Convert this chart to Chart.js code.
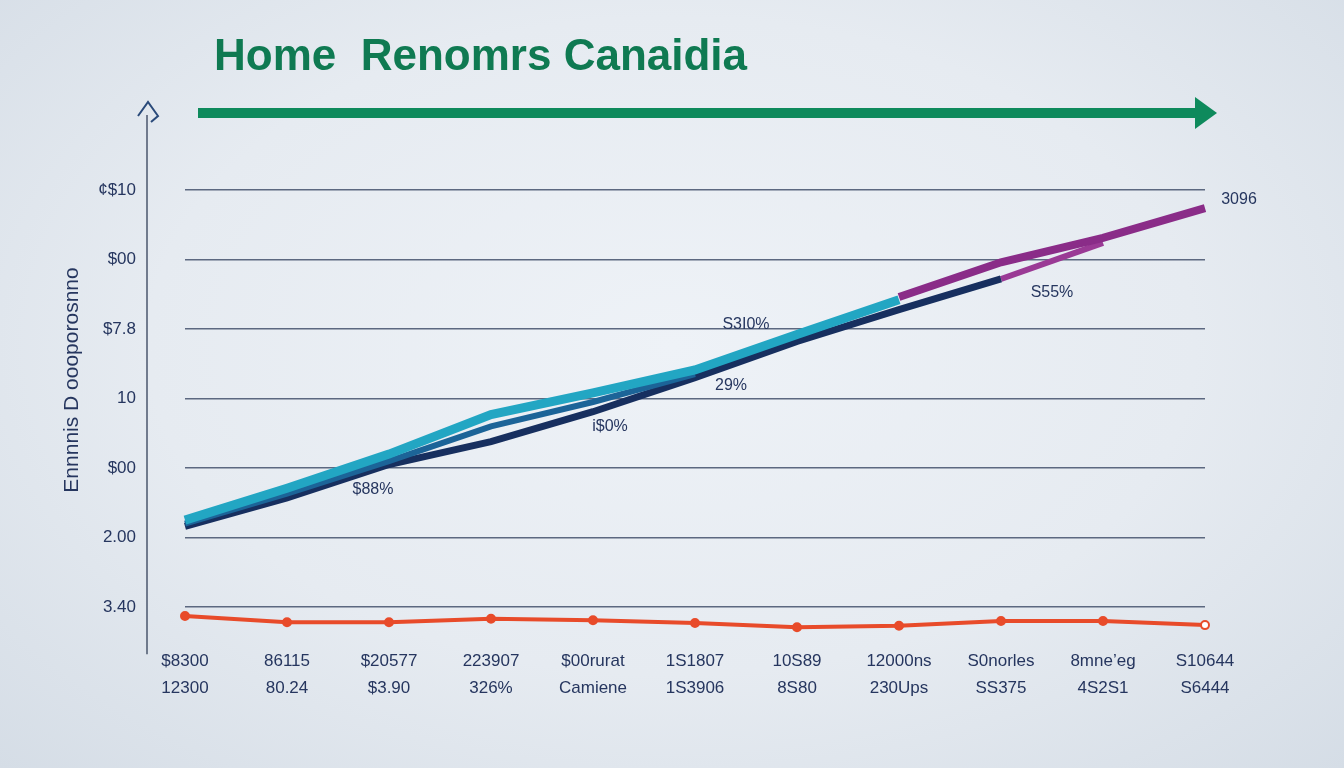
<!DOCTYPE html>
<html>
<head>
<meta charset="utf-8">
<script src="https://cdn.jsdelivr.net/npm/chart.js@4.4.1/dist/chart.umd.min.js"></script>
<style>
  html, body { margin: 0; padding: 0; }
  body {
    width: 1344px; height: 768px; overflow: hidden; position: relative;
    background: radial-gradient(ellipse at 50% 45%, #eef2f7 0%, #e6ebf1 55%, #d5dde6 100%);
    font-family: 'Liberation Sans', Arial, sans-serif;
  }
  #wrap { position: absolute; left: 0; top: 0; width: 1344px; height: 768px; }
  #title {
    position: absolute; left: 214px; top: 30px; white-space: pre;
    font: bold 44px 'Liberation Sans', Arial, sans-serif; color: #0f7a52;
  }
</style>
</head>
<body>
<div id="wrap"><canvas id="chart"></canvas></div>
<div id="title">Home  Renomrs Canaidia</div>
<script>
// ── Data ───────────────────────────────────────────────
const labelsTop    = ['$8300', '86115', '$20577', '223907', '$00rurat', '1S1807', '10S89', '12000ns', 'S0norles', '8mne\u2019eg', 'S10644'];
const labelsBottom = ['12300', '80.24', '$3.90', '326%', 'Camiene', '1S3906', '8S80', '230Ups', 'SS375', '4S2S1', 'S6444'];
const yTickLabels  = ['3.40', '2.00', '$00', '10', '$7.8', '$00', '\u00a2$10'];
const yAxisTitle   = 'Ennnnis D oooporosnno';

const tealValues    = [1.25, 1.71, 2.20, 2.77, 3.08, 3.41, 3.92, 4.42, null, null, null];
const blueValues    = [1.20, 1.63, 2.10, 2.60, 2.95, 3.35, null, null, null, null, null];
const navyValues    = [1.16, 1.57, 2.05, 2.38, 2.81, 3.30, 3.82, 4.28, 4.72, null, null];
const purpleValues  = [null, null, null, null, null, null, null, 4.46, 4.96, 5.31, 5.74];
const purple2Values = [null, null, null, null, null, null, null, null, 4.72, 5.24, null];
const redValues     = [-0.13, -0.22, -0.22, -0.17, -0.19, -0.23, -0.29, -0.27, -0.20, -0.20, -0.26];

// point notes: [dataset index, point index, text]
const pointNotes = [
  [2, 2, '$88%'],
  [2, 4, 'i$0%'],
  [2, 5, '29%'],
  [0, 6, 'S3I0%'],
  [2, 8, 'S55%'],
  [3, 10, '3096']
];

const categories = labelsTop.map((t, i) => [t, labelsBottom[i]]);

// ── Colours ────────────────────────────────────────────
const INK = '#26365f';
const GRID = '#5c6880';
const GREEN = '#0e8a5c';
const FONT = "'Liberation Sans', Arial, sans-serif";

// ── Decoration plugin: axis line, arrow, notes ─────────
const noteOffsets = [[-16, 25], [17, 15], [36, 8], [-51, -10], [51, 14], [34, -8]];

const decor = {
  id: 'decor',
  afterDraw(chart) {
    const { ctx, chartArea: a } = chart;
    ctx.save();
    // vertical axis line left of the grid
    const ax = a.left - 38;
    ctx.strokeStyle = '#4a566c';
    ctx.lineWidth = 1.5;
    ctx.beginPath();
    ctx.moveTo(ax, a.top - 75);
    ctx.lineTo(ax, a.bottom + 16);
    ctx.stroke();
    // little house mark at top of axis
    ctx.strokeStyle = '#2a4a7a';
    ctx.lineWidth = 2;
    ctx.beginPath();
    ctx.moveTo(ax - 9, a.top - 74);
    ctx.lineTo(ax + 1, a.top - 88);
    ctx.lineTo(ax + 11, a.top - 74);
    ctx.lineTo(ax + 4, a.top - 68);
    ctx.stroke();
    // green arrow across the top
    const yA = a.top - 77;
    ctx.fillStyle = GREEN;
    ctx.fillRect(a.left + 13, yA - 5, 1000, 10);
    ctx.beginPath();
    ctx.moveTo(a.left + 1010, yA - 16);
    ctx.lineTo(a.left + 1032, yA);
    ctx.lineTo(a.left + 1010, yA + 16);
    ctx.closePath();
    ctx.fill();
    // rotated y-axis title
    ctx.fillStyle = INK;
    ctx.font = '21px ' + FONT;
    ctx.textAlign = 'center';
    ctx.textBaseline = 'middle';
    ctx.save();
    ctx.translate(72, a.top + 190);
    ctx.rotate(-Math.PI / 2);
    ctx.fillText(yAxisTitle, 0, 0);
    ctx.restore();
    // point notes
    ctx.font = '16px ' + FONT;
    pointNotes.forEach(([ds, idx, text], k) => {
      const p = chart.getDatasetMeta(ds).data[idx];
      if (!p) return;
      ctx.fillText(text, p.x + noteOffsets[k][0], p.y + noteOffsets[k][1]);
    });
    ctx.restore();
  }
};

// ── Chart ──────────────────────────────────────────────
const ribbon = (label, data, color, width) => ({
  label, data, borderColor: color, backgroundColor: color,
  borderWidth: width, pointRadius: 0, tension: 0, spanGaps: false
});

new Chart(document.getElementById('chart'), {
  type: 'line',
  data: {
    labels: categories,
    datasets: [
      ribbon('Teal', tealValues, '#22a6c3', 9),
      ribbon('Blue', blueValues, '#1c6498', 6),
      ribbon('Navy', navyValues, '#172f5f', 7),
      ribbon('Purple', purpleValues, '#8a2c88', 8),
      ribbon('Purple 2', purple2Values, '#9a3a95', 6),
      {
        label: 'Red', data: redValues,
        borderColor: '#e84b2a', borderWidth: 4, tension: 0,
        pointRadius: 4, pointBorderWidth: 2,
        pointBackgroundColor: redValues.map((v, i) => i === redValues.length - 1 ? '#ffffff' : '#e84b2a'),
        pointBorderColor: '#e84b2a'
      }
    ]
  },
  options: {
    responsive: true,
    maintainAspectRatio: false,
    animation: false,
    clip: false,
    layout: { padding: { top: 190, right: 139, bottom: 65, left: 0 } },
    plugins: { legend: { display: false }, tooltip: { enabled: false } },
    scales: {
      x: {
        offset: false,
        grid: { display: false },
        border: { display: false },
        ticks: {
          color: INK, padding: 2, maxRotation: 0, autoSkip: false,
          font: { family: FONT, size: 17, lineHeight: 1.55 }
        }
      },
      y: {
        min: -0.45, max: 6,
        afterBuildTicks: s => { s.ticks = s.ticks.filter(t => Number.isInteger(t.value)); },
        afterFit: s => { s.width = 185; },
        grid: { color: GRID, lineWidth: 1.6, drawTicks: false },
        border: { display: false },
        ticks: {
          stepSize: 1, padding: 49, color: INK,
          font: { family: FONT, size: 17 },
          callback: v => yTickLabels[v]
        }
      }
    }
  },
  plugins: [decor]
});
</script>
</body>
</html>
